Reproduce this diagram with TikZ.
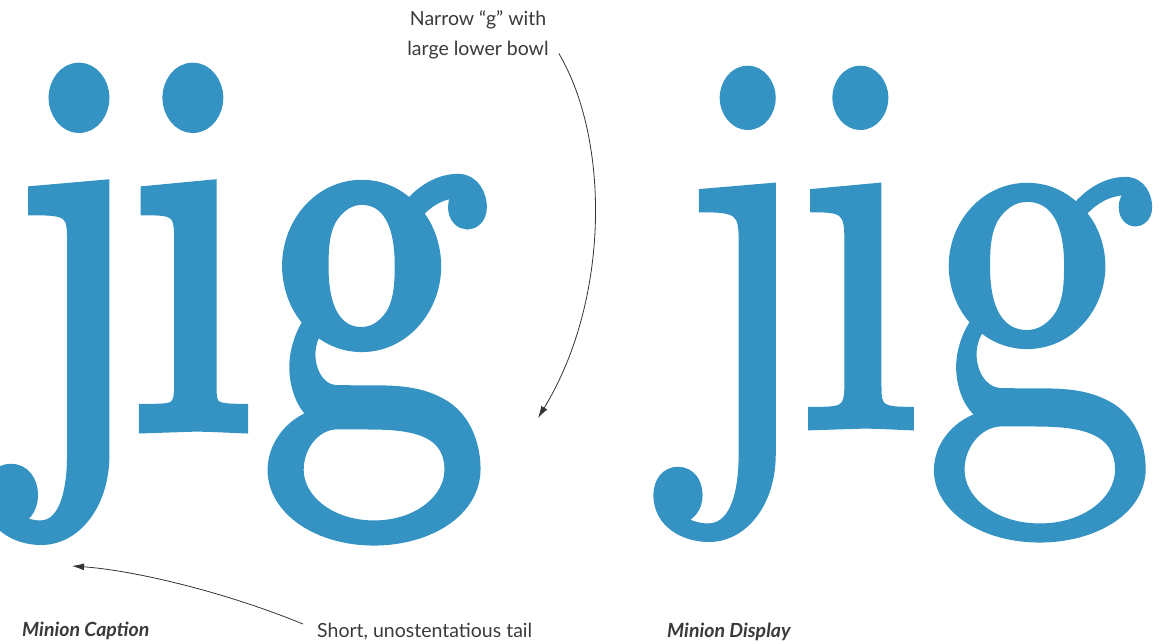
\documentclass[tikz,border=0pt]{standalone}
\usepackage{fontspec}
\usepackage{tikz}
\usetikzlibrary{arrows.meta}
\newfontfamily\captionface{lmroman10-regular.otf}[FakeStretch=0.83, FakeBold=2.3]
\newfontfamily\displayface{lmroman10-regular.otf}[FakeStretch=0.85, FakeBold=1.2]
\newfontfamily\labelfont{Lato}
\definecolor{inkBlue}{RGB}{52, 147, 194}
\definecolor{noteGray}{RGB}{58, 58, 58}

\begin{document}
\begin{tikzpicture}[x=1pt, y=-1pt,
    glyphCap/.style={inner sep=0pt, anchor=base west, text=inkBlue, font=\captionface\fontsize{545}{545}\selectfont},
    glyphDisp/.style={inner sep=0pt, anchor=base west, text=inkBlue, font=\displayface\fontsize{545}{545}\selectfont},
    note/.style={inner sep=1pt, text=noteGray, font=\labelfont\fontsize{19.5}{30}\selectfont},
    caption/.style={note, font=\labelfont\bfseries\itshape\fontsize{19.5}{22}\selectfont},
    pointer/.style={draw=black!80, line width=0.8pt, -{Latex[length=12pt, width=7pt]}}]
      \useasboundingbox (0,0) rectangle (1161,643);

      % Minion Caption
      \node[glyphCap] (jA) at (8,427) {j};
      \node[glyphCap] (iA) at (130,427) {i};
      \node[glyphCap] (gA) at (261,427) {g};

      % Minion Display
      \node[glyphDisp] (jB) at (675,427) {j};
      \node[glyphDisp] (iB) at (796,427) {i};
      \node[glyphDisp] (gB) at (924,427) {g};

      % notes
      \node[note, align=center] (lblG) at (478,35) {Narrow “g” with\\large lower bowl};
      \node[note, anchor=west] (lblTail) at (316,632) {Short, unostentatious tail};
      \node[caption, anchor=west] (capA) at (21,631) {Minion Caption};
      \node[caption, anchor=west] (capB) at (666,632) {Minion Display};

      \coordinate (bowlTip) at (538,418);
      \coordinate (tailTip) at (72,566);
      \draw[pointer] ([shift={(9pt,7pt)}]lblG.south east) .. controls (610,140) and (610,300) .. (bowlTip);
      \draw[pointer] ([shift={(-13pt,8pt)}]lblTail.west) .. controls (220,590) and (130,570) .. (tailTip);
    \end{tikzpicture}
\end{document}
